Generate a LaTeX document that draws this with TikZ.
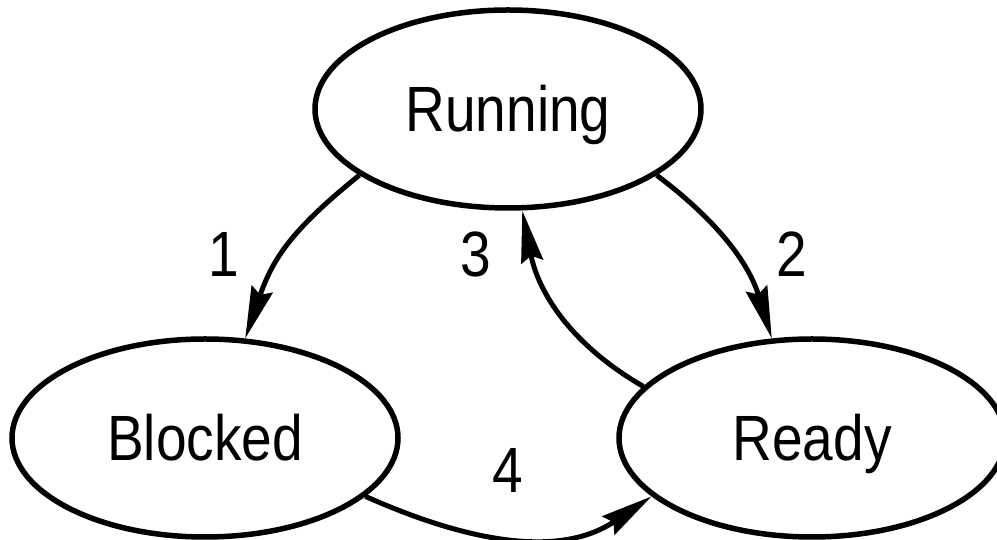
\documentclass[tikz,border=0pt]{standalone}
\usepackage{fontspec}
\setmainfont{Liberation Sans}[FakeStretch=0.86]
\usetikzlibrary{shapes.geometric,arrows.meta}
\begin{document}
\begin{tikzpicture}[x=1pt,y=1pt,
  state/.style={ellipse,draw,line width=5.5pt,minimum width=386pt,minimum height=198pt,
    inner sep=0pt,font=\fontsize{64}{70}\selectfont,text height=46pt,text depth=0pt},
  lbl/.style={anchor=base,inner sep=0pt,font=\fontsize{64}{70}\selectfont},
  trans/.style={line width=5pt,-{Stealth[length=52pt,width=22pt,inset=6pt]}}]
\useasboundingbox (0,0) rectangle (997,540);
\node[state] (run) at (508,431) {Running};
\node[state] (blk) at (205,102) {Blocked};
\node[state] (rdy) at (812,102) {Ready};
\draw[trans] (run.204) to[out=219,in=71,looseness=1.1] (blk.68);
\draw[trans] (run.336) to[out=323,in=107] (rdy.112);
\draw[trans] (rdy.163) to[out=150,in=281] (run.278);
\draw[trans] (blk.340) to[out=336,in=214] (rdy.200);
\node[lbl] (l1) at (224,263) {1};
\node[lbl] (l2) at (792,263) {2};
\node[lbl] (l3) at (476,263) {3};
\node[lbl] (l4) at (508,47) {4};
\end{tikzpicture}
\end{document}
